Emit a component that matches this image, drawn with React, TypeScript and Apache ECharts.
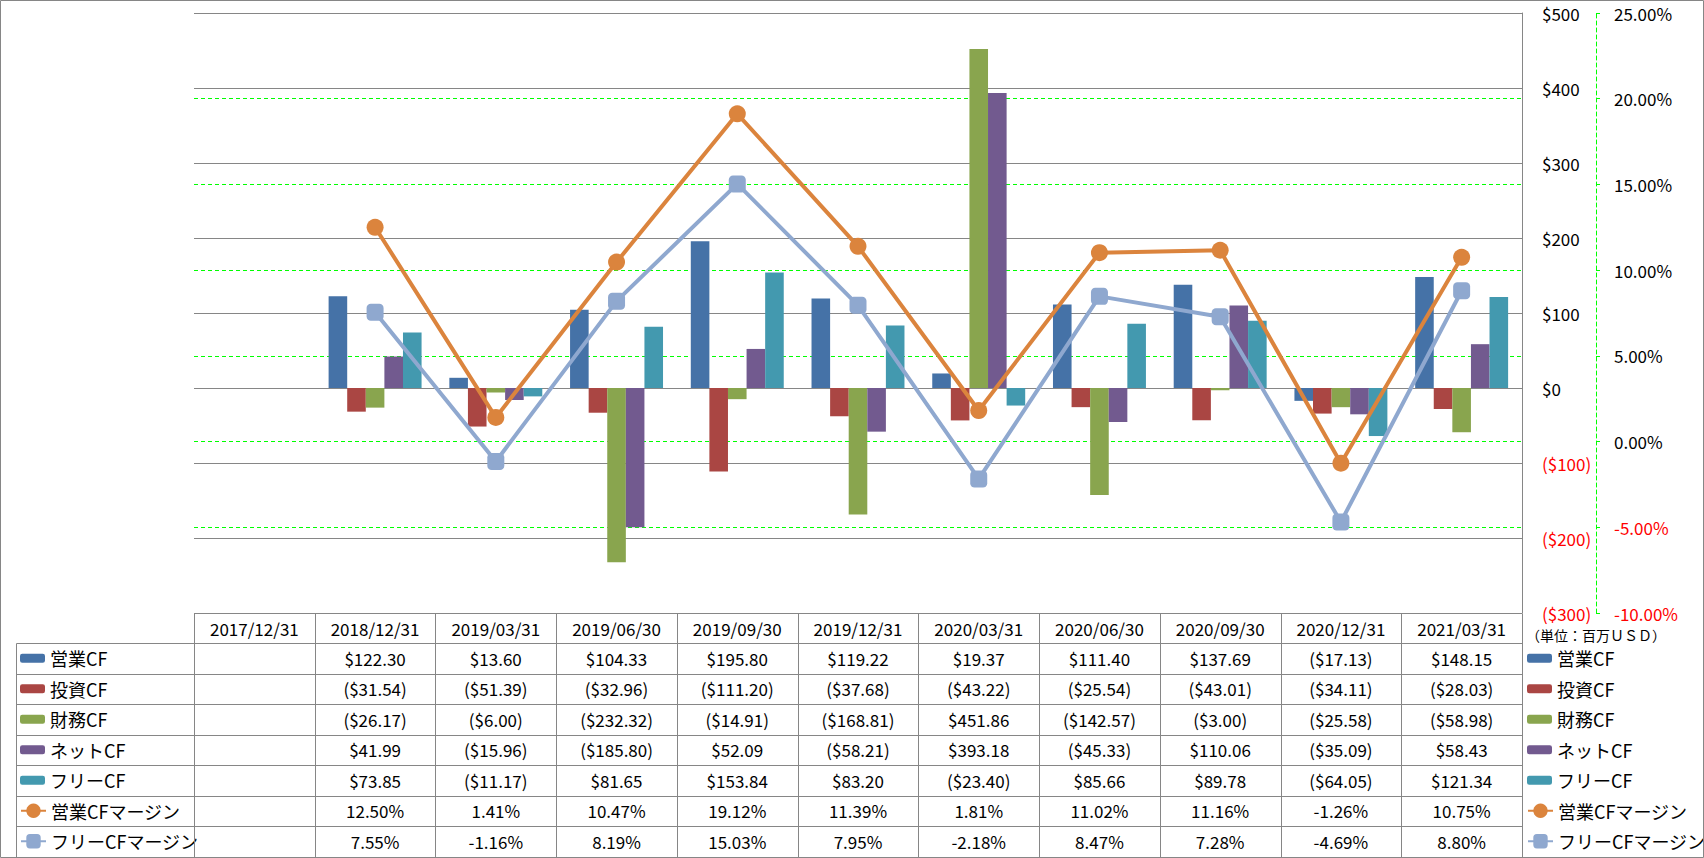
import React, { useEffect, useRef } from 'react';
import * as echarts from 'echarts';

// ---------- data ----------
const categories = ['2017/12/31', '2018/12/31', '2019/03/31', '2019/06/30', '2019/09/30', '2019/12/31', '2020/03/31', '2020/06/30', '2020/09/30', '2020/12/31', '2021/03/31'];
const operatingCF = [null, 122.30, 13.60, 104.33, 195.80, 119.22, 19.37, 111.40, 137.69, -17.13, 148.15];
const investingCF = [null, -31.54, -51.39, -32.96, -111.20, -37.68, -43.22, -25.54, -43.01, -34.11, -28.03];
const financingCF = [null, -26.17, -6.00, -232.32, -14.91, -168.81, 451.86, -142.57, -3.00, -25.58, -58.98];
const netCF = [null, 41.99, -15.96, -185.80, 52.09, -58.21, 393.18, -45.33, 110.06, -35.09, 58.43];
const freeCF = [null, 73.85, -11.17, 81.65, 153.84, 83.20, -23.40, 85.66, 89.78, -64.05, 121.34];
const operatingMargin = [null, 12.50, 1.41, 10.47, 19.12, 11.39, 1.81, 11.02, 11.16, -1.26, 10.75];
const freeMargin = [null, 7.55, -1.16, 8.19, 15.03, 7.95, -2.18, 8.47, 7.28, -4.69, 8.80];

const barNames = ['営業CF', '投資CF', '財務CF', 'ネットCF', 'フリーCF'];
const lineNames = ['営業CFマージン', 'フリーCFマージン'];
const unitLabel = '（単位：百万ＵＳＤ）';

const leftAxis = { min: -300, max: 500, interval: 100 };
const rightAxis = { min: -10, max: 25, interval: 5 };

// ---------- styles ----------
const barColors = ['#4572A7', '#AA4643', '#89A54E', '#725A8F', '#4399AF'];
const orange = '#DB843D';
const lightBlue = '#8FA8CF';
const gray = '#868686';
const green = '#00FF00';
const FONT = '"Noto Sans CJK JP", "Noto Sans", sans-serif';

const W = 1704;
const H = 858;
const GL = 194;
const GR = 1522;
const GT = 13;
const GB = 613;
const TABLE_LEFT = 16.5;
const HEADER_BOTTOM = 643;
const ROW_H = 30.5;

const money = (v: number | null) => (v == null ? '' : v < 0 ? `($${Math.abs(v).toFixed(2)})` : `$${v.toFixed(2)}`);
const pct = (v: number | null) => (v == null ? '' : `${v.toFixed(2)}%`);

export default function App() {
  const ref = useRef<HTMLDivElement>(null);
  useEffect(() => {
    document.body.style.margin = '0';
    if (!ref.current) return;
    const chart = echarts.init(ref.current, undefined, { renderer: 'svg' });

    const barData = [operatingCF, investingCF, financingCF, netCF, freeCF];
    const lineData = [operatingMargin, freeMargin];
    const rows: { vals: (number | null)[]; fmt: (v: number | null) => string }[] = [
      ...barData.map((d) => ({ vals: d, fmt: money })),
      ...lineData.map((d) => ({ vals: d, fmt: pct })),
    ];

    const colW = (GR - GL) / categories.length;
    const px = (v: number) => Math.round(v) + 0.5;
    const lineStyle = { stroke: gray, lineWidth: 1 };
    const graphics: any[] = [];
    graphics.push({ type: 'rect', z: 100, shape: { x: 0.5, y: 0.5, width: W - 1, height: H - 1 }, style: { fill: 'none', stroke: gray, lineWidth: 1 } });
    // top gridline and table top
    graphics.push({ type: 'line', z: 100, shape: { x1: GL, y1: px(GT), x2: GR, y2: px(GT) }, style: lineStyle });
    graphics.push({ type: 'line', z: 100, shape: { x1: GL, y1: px(GB), x2: GR, y2: px(GB) }, style: lineStyle });
    for (let r = 0; r <= rows.length; r++) {
      const y = px(HEADER_BOTTOM + r * ROW_H);
      graphics.push({ type: 'line', z: 100, shape: { x1: TABLE_LEFT, y1: y, x2: GR, y2: y }, style: lineStyle });
    }
    const tableBottom = px(HEADER_BOTTOM + rows.length * ROW_H);
    graphics.push({ type: 'line', z: 100, shape: { x1: TABLE_LEFT, y1: px(HEADER_BOTTOM), x2: TABLE_LEFT, y2: tableBottom }, style: lineStyle });
    for (let k = 0; k <= categories.length; k++) {
      const x = px(GL + k * colW);
      graphics.push({ type: 'line', z: 100, shape: { x1: x, y1: px(GB), x2: x, y2: tableBottom }, style: lineStyle });
    }
    categories.forEach((c, i) => {
      const cx = GL + (i + 0.5) * colW;
      graphics.push({ type: 'text', z: 101, x: cx, y: (GB + HEADER_BOTTOM) / 2, style: { text: c, align: 'center', verticalAlign: 'middle', fontSize: 17, fontFamily: FONT, fill: '#000' } });
      rows.forEach((row, r) => {
        const t = row.fmt(row.vals[i]);
        if (!t) return;
        graphics.push({ type: 'text', z: 101, x: cx, y: HEADER_BOTTOM + (r + 0.5) * ROW_H, style: { text: t, align: 'center', verticalAlign: 'middle', fontSize: 17, fontFamily: FONT, fill: '#000' } });
      });
    });
    graphics.push({ type: 'text', z: 101, x: 1526, y: 635, style: { text: unitLabel, align: 'left', verticalAlign: 'middle', fontSize: 14, fontFamily: FONT, fill: '#000' } });

    const rowTop = (r: number) => HEADER_BOTTOM + (r + 0.5) * ROW_H - 10;
    const legendText = { fontSize: 18, fontFamily: FONT, color: '#000', lineHeight: 20 };
    const legendBase = { orient: 'vertical', padding: 0, itemGap: ROW_H - 20, selectedMode: false, textStyle: legendText, itemWidth: 25 };

    const option: any = {
      animation: false,
      backgroundColor: '#fff',
      grid: { left: GL, right: W - GR, top: GT, height: GB - GT },
      legend: [
        { ...legendBase, left: 20, top: rowTop(0), data: barNames, itemHeight: 9 },
        { ...legendBase, left: 20, top: rowTop(5), data: lineNames, itemHeight: 18 },
        { ...legendBase, left: 1527, top: rowTop(0), data: barNames, itemHeight: 9 },
        { ...legendBase, left: 1527, top: rowTop(5), data: lineNames, itemHeight: 18 },
      ],
      xAxis: {
        type: 'category',
        data: categories,
        axisLabel: { show: false },
        axisTick: { show: false },
        axisLine: { show: false },
        splitLine: { show: false },
      },
      yAxis: [
        {
          type: 'value',
          position: 'right',
          ...leftAxis,
          axisLine: { show: true, lineStyle: { color: gray, width: 1 } },
          axisTick: { show: false },
          splitLine: { show: true, lineStyle: { color: gray, width: 1 } },
          axisLabel: {
            margin: 20,
            fontSize: 17,
            fontFamily: FONT,
            formatter: (v: number) => (v < 0 ? `($${Math.abs(v)})` : `$${v}`),
            color: (v: any) => (Number(v) < 0 ? '#FF0000' : '#000000'),
          },
        },
        {
          type: 'value',
          position: 'right',
          offset: 74,
          ...rightAxis,
          axisLine: { show: true, lineStyle: { color: green, width: 1, type: [4, 3] } },
          axisTick: { show: true, length: 4, lineStyle: { color: green, width: 1 } },
          splitLine: { show: true, lineStyle: { color: green, width: 1, type: [4, 3] } },
          axisLabel: {
            margin: 18,
            fontSize: 17,
            fontFamily: FONT,
            formatter: (v: number) => `${Number(v).toFixed(2)}%`,
            color: (v: any) => (Number(v) < 0 ? '#FF0000' : '#000000'),
          },
        },
      ],
      series: [
        ...barNames.map((n, i) => ({
          name: n,
          type: 'bar',
          yAxisIndex: 0,
          data: barData[i],
          barGap: '0%',
          barCategoryGap: '23%',
          itemStyle: { color: barColors[i] },
        })),
        {
          name: lineNames[0],
          type: 'line',
          yAxisIndex: 1,
          data: operatingMargin,
          symbol: 'circle',
          symbolSize: 17,
          lineStyle: { color: orange, width: 4 },
          itemStyle: { color: orange },
          z: 5,
        },
        {
          name: lineNames[1],
          type: 'line',
          yAxisIndex: 1,
          data: freeMargin,
          symbol: 'roundRect',
          symbolSize: 17,
          lineStyle: { color: lightBlue, width: 4 },
          itemStyle: { color: lightBlue },
          z: 5,
        },
      ],
      graphic: graphics,
    };
    chart.setOption(option);
    return () => chart.dispose();
  }, []);
  return <div ref={ref} style={{ width: W, height: H }} />;
}
